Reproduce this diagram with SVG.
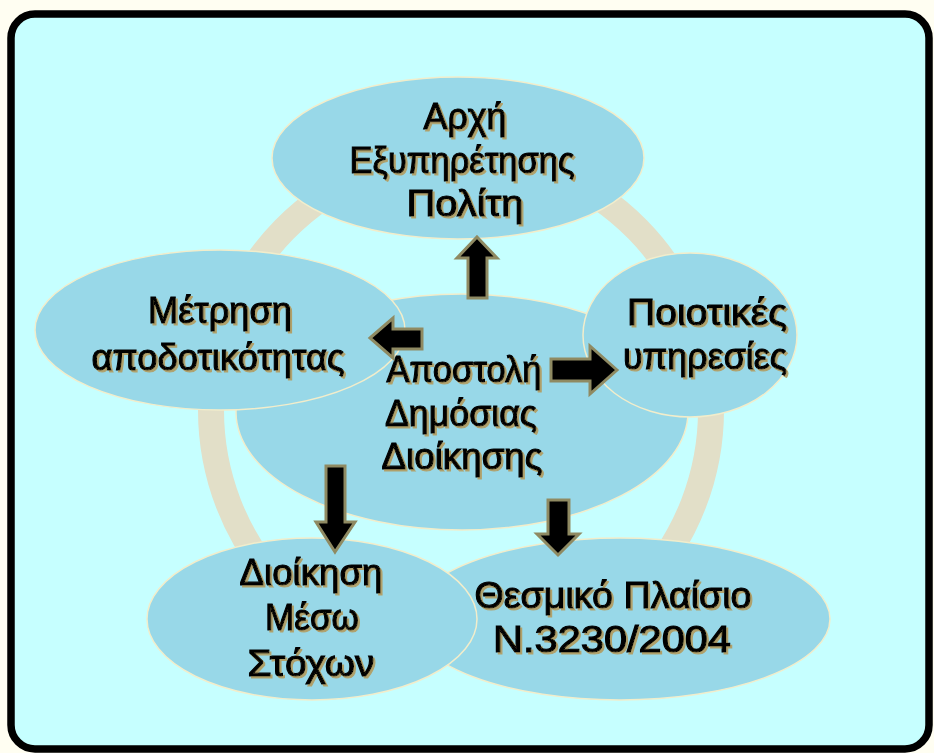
<svg xmlns="http://www.w3.org/2000/svg" width="934" height="753" viewBox="0 0 934 753">
  <defs>
    <filter id="tanShadow" x="-10%" y="-30%" width="120%" height="160%">
      <feDropShadow dx="2" dy="2" stdDeviation="0.4" flood-color="#B0A06A" flood-opacity="1"/>
    </filter>
    <clipPath id="ringClip">
      <rect x="0" y="0" width="934" height="600"/>
    </clipPath>
  </defs>
  <style>
    .bubble { fill: #98D8E8; stroke: #F2EDCB; stroke-width: 1.5; }
    .ring { fill: none; stroke: #E2DFC8; stroke-width: 26; }
    .arrow { fill: #000; stroke: #8F8A62; stroke-width: 3; stroke-linejoin: miter; }
    .lbl { font-family: "Liberation Sans", "DejaVu Sans", sans-serif; font-size: 36px; text-anchor: middle; fill: #000; stroke: #000; stroke-width: 1.1; filter: url(#tanShadow); }
  </style>

  <!-- page and frame -->
  <rect x="0" y="0" width="934" height="753" fill="#FFFEF2"/>
  <rect x="11" y="14" width="918" height="735" rx="24" ry="24" fill="#C6FFFF" stroke="#000" stroke-width="7.5"/>

  <!-- cycle ring behind the bubbles -->
  <ellipse class="ring" cx="461" cy="410" rx="250" ry="255" clip-path="url(#ringClip)"/>

  <g id="node-thesmiko">
    <ellipse class="bubble" cx="620" cy="619" rx="210" ry="81"/>
    <text class="lbl" x="613" y="608" textLength="277" lengthAdjust="spacingAndGlyphs">Θεσμικό Πλαίσιο</text>
    <text class="lbl" x="612" y="652" textLength="238" lengthAdjust="spacingAndGlyphs">Ν.3230/2004</text>
  </g>

  <g id="node-stoxoi">
    <ellipse class="bubble" cx="312" cy="619" rx="165" ry="81"/>
    <text class="lbl" x="311" y="585" textLength="143" lengthAdjust="spacingAndGlyphs">Διοίκηση</text>
    <text class="lbl" x="312" y="630" textLength="94" lengthAdjust="spacingAndGlyphs">Μέσω</text>
    <text class="lbl" x="311" y="676" textLength="127" lengthAdjust="spacingAndGlyphs">Στόχων</text>
  </g>

  <g id="node-apostoli">
    <ellipse class="bubble" cx="462" cy="412" rx="226" ry="118"/>
  </g>

  <g id="node-arxi">
    <ellipse class="bubble" cx="458" cy="158" rx="186" ry="81"/>
    <text class="lbl" x="465" y="129" textLength="83" lengthAdjust="spacingAndGlyphs">Αρχή</text>
    <text class="lbl" x="462" y="173" textLength="225" lengthAdjust="spacingAndGlyphs">Εξυπηρέτησης</text>
    <text class="lbl" x="465" y="216" textLength="117" lengthAdjust="spacingAndGlyphs">Πολίτη</text>
  </g>

  <g id="node-metrisi">
    <ellipse class="bubble" cx="220" cy="330" rx="185" ry="80"/>
    <text class="lbl" x="220" y="323" textLength="144" lengthAdjust="spacingAndGlyphs">Μέτρηση</text>
    <text class="lbl" x="218" y="370" textLength="253" lengthAdjust="spacingAndGlyphs">αποδοτικότητας</text>
  </g>

  <g id="node-poiotikes">
    <ellipse class="bubble" cx="690" cy="335" rx="107" ry="82"/>
    <text class="lbl" x="707" y="325" textLength="160" lengthAdjust="spacingAndGlyphs">Ποιοτικές</text>
    <text class="lbl" x="705" y="369" textLength="164" lengthAdjust="spacingAndGlyphs">υπηρεσίες</text>
  </g>

  <!-- centre label drawn above the overlapping bubbles -->
  <g id="label-apostoli">
    <text class="lbl" x="464" y="382" textLength="155" lengthAdjust="spacingAndGlyphs">Αποστολή</text>
    <text class="lbl" x="461" y="426" textLength="152" lengthAdjust="spacingAndGlyphs">Δημόσιας</text>
    <text class="lbl" x="462" y="469" textLength="161" lengthAdjust="spacingAndGlyphs">Διοίκησης</text>
  </g>

  <g id="connectors">
    <path class="arrow" d="M477,237 L497,258 L487,258 L487,298 L468,298 L468,258 L457,258 Z"/>
    <path class="arrow" d="M370,338 L393,318 L393,329 L422,329 L422,349 L393,349 L393,358 Z"/>
    <path class="arrow" d="M617,370 L590,346 L590,359 L551,359 L551,381 L590,381 L590,394 Z"/>
    <path class="arrow" d="M335,552 L355,522 L345,522 L345,466 L326,466 L326,522 L316,522 Z"/>
    <path class="arrow" d="M558,555 L579,534 L569,534 L569,500 L548,500 L548,534 L537,534 Z"/>
  </g>
</svg>
